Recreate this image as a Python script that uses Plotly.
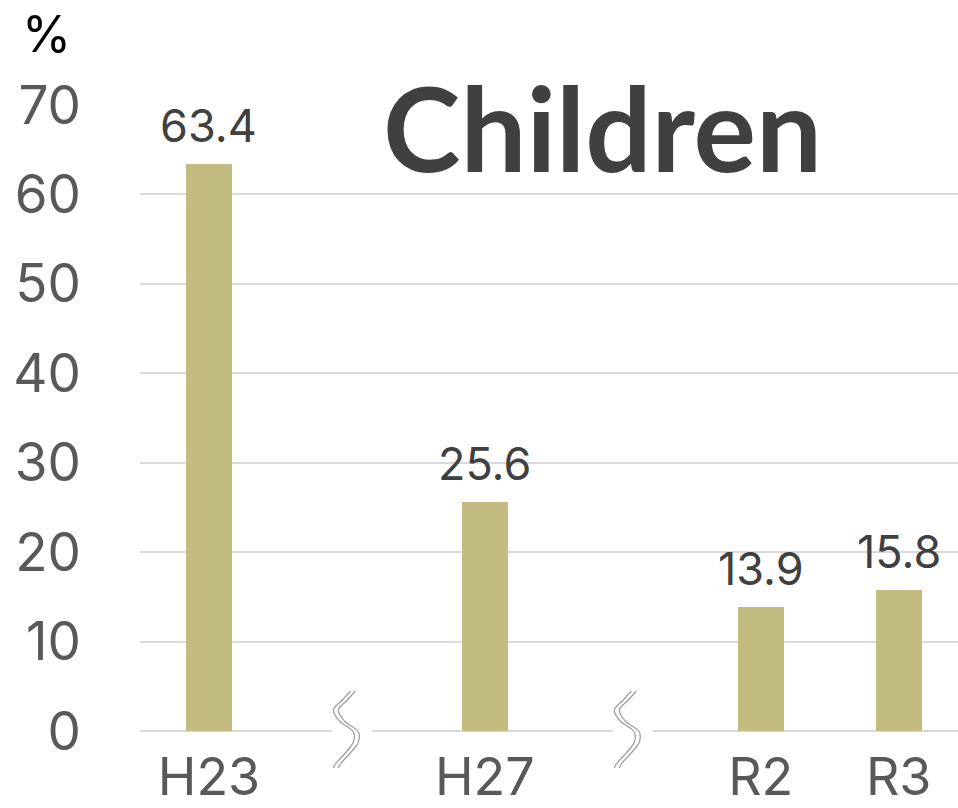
import plotly.graph_objects as go

# ---- data ----
slots = ["H23", None, "H27", None, "R2", "R3"]   # axis slots; None = broken gap
categories = ["H23", "H27", "R2", "R3"]
values = [63.4, 25.6, 13.9, 15.8]
y_ticks = [0, 10, 20, 30, 40, 50, 60, 70]
title_text = "Children"
unit_text = "%"

# ---- style ----
W, H = 958, 808
ML, MT, MB = 140, 105, 30
AXIS_PX = 731                     # pixel row of y = 0
plot_h = H - MT - MB
y0_dom = (H - MB - AXIS_PX) / plot_h
BAR = "#c2bc80"
GRID = "#d9d9d9"
FONT = "Inter, 'Noto Sans', sans-serif"
TFONT = "Lato, 'Noto Sans', sans-serif"
XR = [-0.5, 5.43]
slot_px = (W - ML) / (XR[1] - XR[0])

xs = [slots.index(c) for c in categories]
gap_x = [i for i, s in enumerate(slots) if s is None]

fig = go.Figure()
fig.add_trace(go.Bar(x=xs, y=values, width=1/3, marker=dict(color=BAR, line=dict(width=0)),
                     hoverinfo="skip", showlegend=False))

# data labels
for x, v in zip(xs, values):
    fig.add_annotation(x=x, y=v, text=f"{v:.1f}", showarrow=False, yanchor="bottom",
                       yshift=9, font=dict(size=45, color="#404040", family=FONT))

# axis-break symbols drawn in an overlay subplot measured in pixels
ctrl = [(6, 40), (-2, 31), (-11, 21), (-5, 10), (9, -1), (9, -11), (0, -23), (-9, -33), (-11, -37)]
offsets = [0, 5]
for gx, off in zip(gap_x, offsets):
    cx = gx + off / slot_px
    fig.add_trace(go.Scatter(x=[cx - 15 / slot_px, cx + 25 / slot_px], y=[0, 0], mode="lines",
                             line=dict(color="white", width=6), xaxis="x2", yaxis="y2",
                             hoverinfo="skip", showlegend=False))
    for side in (-2.5, 2.5):
        fig.add_trace(go.Scatter(x=[cx + (dx + side) / slot_px for dx, dy in ctrl],
                                 y=[dy for dx, dy in ctrl], mode="lines",
                                 line=dict(color="#a0a0a0", width=1.3, shape="spline"),
                                 xaxis="x2", yaxis="y2", hoverinfo="skip", showlegend=False))

fig.add_annotation(text=title_text, xref="paper", yref="paper", x=(602 - ML) / (W - ML),
                   y=1 - (127 - MT) / plot_h, xanchor="center", yanchor="middle", showarrow=False,
                   font=dict(size=117, color="#404040", family=TFONT, weight="bold"))
fig.add_annotation(text=unit_text, xref="paper", yref="paper", x=(46 - ML) / (W - ML),
                   y=1 - (34 - MT) / plot_h, xanchor="center", yanchor="middle", showarrow=False,
                   font=dict(size=50, color="#000000", family=FONT))

fig.update_layout(
    width=W, height=H,
    margin=dict(l=ML, r=0, t=MT, b=MB, pad=0, autoexpand=False),
    paper_bgcolor="white", plot_bgcolor="rgba(0,0,0,0)",
    bargap=0,
    xaxis=dict(range=XR, tickmode="array", tickvals=xs, ticktext=categories, showgrid=False,
               zeroline=False, showline=False, ticks="", ticklabelstandoff=11, automargin=False,
               tickfont=dict(size=52, color="#595959", family=FONT), anchor="y", fixedrange=True),
    yaxis=dict(range=[0, 70], domain=[y0_dom, 1], tickmode="array", tickvals=y_ticks,
               showgrid=True, gridcolor=GRID, gridwidth=2, zeroline=True, zerolinecolor=GRID,
               zerolinewidth=2, showline=False, ticks="", ticklabelstandoff=58, automargin=False,
               tickfont=dict(size=53, color="#595959", family=FONT), anchor="x", fixedrange=True),
    xaxis2=dict(range=XR, domain=[0, 1], visible=False, anchor="y2", fixedrange=True),
    yaxis2=dict(range=[-(H - MB - AXIS_PX), 46], domain=[0, (H - MB - AXIS_PX + 46) / plot_h],
                visible=False, anchor="x2", fixedrange=True),
)

fig.write_html("out.html", config={"displayModeBar": False})
